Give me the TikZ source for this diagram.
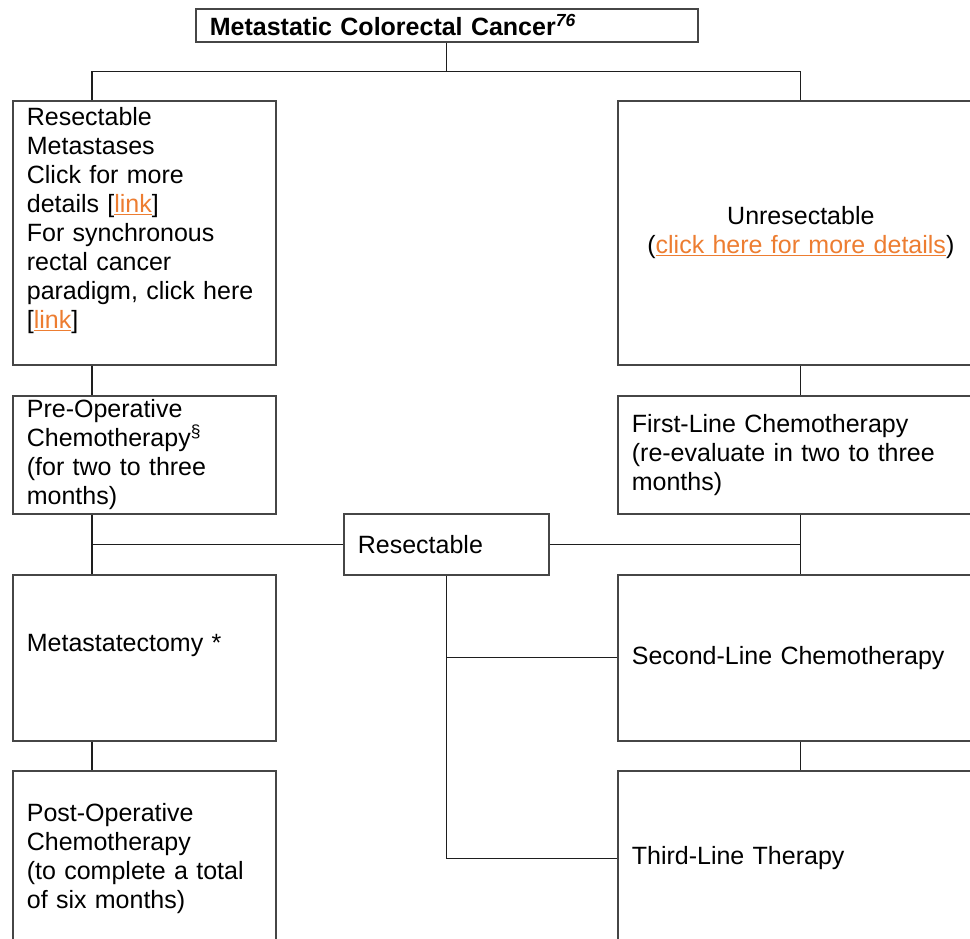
\documentclass[tikz,border=0pt]{standalone}
\usepackage{fontspec}
\setmainfont{Liberation Sans}
\usepackage{xcolor}
\usepackage{tikz}
\usetikzlibrary{positioning, calc}
\definecolor{linkorange}{RGB}{237,125,49}
\definecolor{boxgray}{RGB}{70,70,70}
\definecolor{linedark}{RGB}{30,30,30}
\newcommand{\lnk}[1]{{\color{linkorange}\underline{#1}}}
\tikzset{
  box/.style={rectangle, draw=boxgray, fill=white, anchor=north west,
    align=left, inner xsep=14pt, inner ysep=0pt, line width=1.7pt,
    font=\fontsize{25}{29}\selectfont},
  leftbox/.style={box, text width=235pt},
  rightbox/.style={box, text width=338pt},
  line/.style={line width=1.1pt, color=linedark}
}

\begin{document}
\begin{tikzpicture}[x=1pt, y=-1pt]
  \clip (0,0) rectangle (970,938);
  \fill[white] (0,0) rectangle (970,938);

  % Top box
  \node[box, text width=474pt, minimum height=33pt] (top) at (195,8)
    {\textbf{Metastatic Colorectal Cancer\textsuperscript{\textit{76}}}};

  % Left column
  \node[leftbox, minimum height=264pt] (left1) at (12,100)
    {Resectable\\Metastases\\Click for more\\details [\lnk{link}]\\For synchronous\\rectal cancer\\paradigm, click here\\{}[\lnk{link}]\\ \mbox{}};
  \node[leftbox, minimum height=118pt] (left2) at (12,395)
    {Pre-Operative\\Chemotherapy\textsuperscript{\S}\\(for two to three\\months)};
  \node[leftbox, minimum height=166pt] (left3) at (12,574)
    {Metastatectomy *\\ \mbox{}};
  \node[leftbox, minimum height=175pt] (left4) at (12,770)
    {Post-Operative\\Chemotherapy\\(to complete a total\\of six months)};

  % Right column
  \node[rightbox, align=center, minimum height=264pt] (right1) at (617,100)
    {Unresectable\\(\lnk{click here for more details})};
  \node[rightbox, minimum height=118pt] (right2) at (617,395)
    {First-Line Chemotherapy\\(re-evaluate in two to three\\months)};
  \node[rightbox, minimum height=166pt] (right3) at (617,574)
    {Second-Line Chemotherapy};
  \node[rightbox, minimum height=175pt] (right4) at (617,770)
    {Third-Line Therapy};

  % Middle box
  \node[box, text width=177pt, minimum height=61pt] (resect) at (343,513)
    {Resectable};

  % Connectors
  \coordinate (split) at ([yshift=-29pt]top.south);
  \coordinate (lx) at (92,0);
  \draw[line] (top.south) -- (split);
  \draw[line] (left1.north -| lx) |- (split) -| (right1.north);
  \draw[line] (left1.south -| lx) -- (left2.north -| lx);
  \draw[line] (left2.south -| lx) -- (left3.north -| lx);
  \draw[line] (left3.south -| lx) -- (left4.north -| lx);
  \draw[line] (right1) -- (right2);
  \draw[line] (right2) -- (right3);
  \draw[line] (right3) -- (right4);
  \draw[line] (resect.west) -- (resect.west -| lx);
  \draw[line] (resect.east) -- (resect.east -| right2);
  \draw[line] (resect.south) |- (right4.west);
  \draw[line] (resect.south |- right3.west) -- (right3.west);
\end{tikzpicture}
\end{document}
